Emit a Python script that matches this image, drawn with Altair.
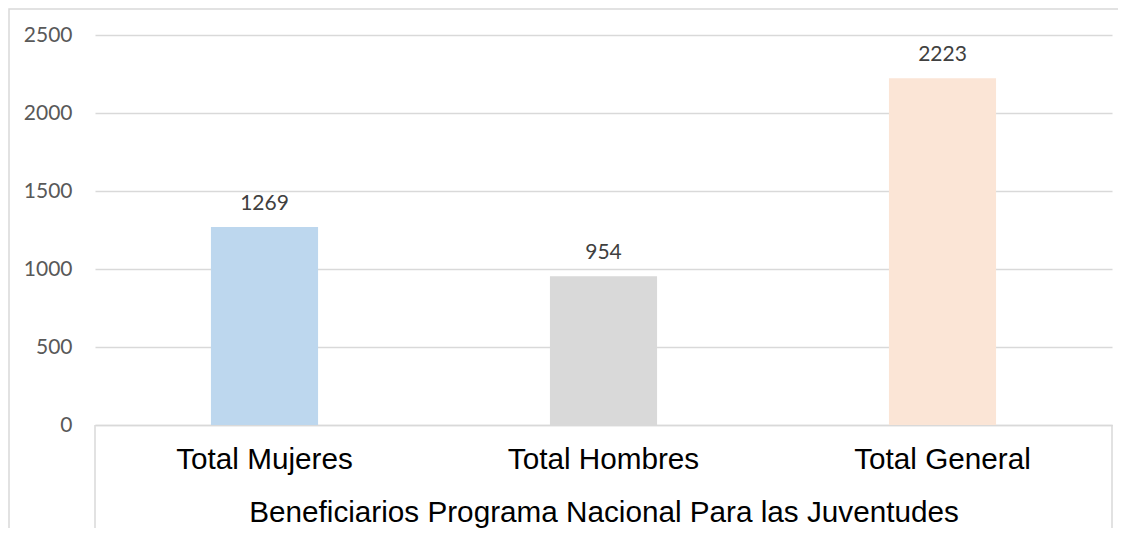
import altair as alt
import pandas as pd

categories = ["Total Mujeres", "Total Hombres", "Total General"]
values = [1269, 954, 2223]
bar_colors = ["#BDD7EE", "#D9D9D9", "#FBE5D6"]
y_ticks = [0, 500, 1000, 1500, 2000, 2500]
group_label = "Beneficiarios Programa Nacional Para las Juventudes"

df = pd.DataFrame({"categoria": categories, "valor": values})

W, H = 1017, 390
PAD_L, PAD_T = 87, 27

x_enc = alt.X(
    "categoria:N",
    sort=categories,
    scale=alt.Scale(paddingInner=0.684, paddingOuter=0.342),
    axis=alt.Axis(
        title=group_label,
        labelAngle=0,
        labelFont="Liberation Sans",
        labelFontSize=29.7,
        labelColor="#000000",
        labelPadding=20,
        labelLimit=0,
        ticks=False,
        domainColor="#D9D9D9",
        domainWidth=1.5,
        titleFont="Liberation Sans",
        titleFontSize=29.7,
        titleFontWeight="normal",
        titleColor="#000000",
        titlePadding=25,
    ),
)
y_enc = alt.Y(
    "valor:Q",
    scale=alt.Scale(domain=[0, 2500], nice=False),
    axis=alt.Axis(
        values=y_ticks,
        format="d",
        title=None,
        domain=False,
        ticks=False,
        gridColor="#D9D9D9",
        gridWidth=1.5,
        labelFont="Lato",
        labelFontSize=21,
        labelColor="#595959",
        labelPadding=23,
    ),
)

bars = alt.Chart(df).mark_bar().encode(
    x=x_enc,
    y=y_enc,
    color=alt.Color("categoria:N", scale=alt.Scale(domain=categories, range=bar_colors), legend=None),
)
labels = alt.Chart(df).mark_text(
    font="Lato", fontSize=21, color="#404040", baseline="alphabetic", dy=-17
).encode(x=x_enc, y=y_enc, text="valor:Q")

deco = pd.DataFrame({"k": [0]})
left_rule = alt.Chart(deco).mark_rule(color="#D9D9D9", strokeWidth=1.5).encode(
    x=alt.value(0), y=alt.value(H), y2=alt.value(H + 105)
)
right_rule = alt.Chart(deco).mark_rule(color="#D9D9D9", strokeWidth=1.5).encode(
    x=alt.value(W), y=alt.value(H), y2=alt.value(H + 105)
)
border = alt.Chart(deco).mark_rect(fillOpacity=0, stroke="#D9D9D9", strokeWidth=1.5).encode(
    x=alt.value(-PAD_L + 1), x2=alt.value(W + 200), y=alt.value(-PAD_T + 1), y2=alt.value(H + 300)
)

chart = (
    alt.layer(border, bars, labels, left_rule, right_rule)
    .properties(
        width=W,
        height=H,
        autosize=alt.AutoSizeParams(type="none"),
        padding={"left": PAD_L, "top": PAD_T, "right": 6, "bottom": 103},
        background="#FFFFFF",
    )
    .configure_view(stroke=None)
)

chart.save("out.html", embed_options={"renderer": "svg", "actions": False})
